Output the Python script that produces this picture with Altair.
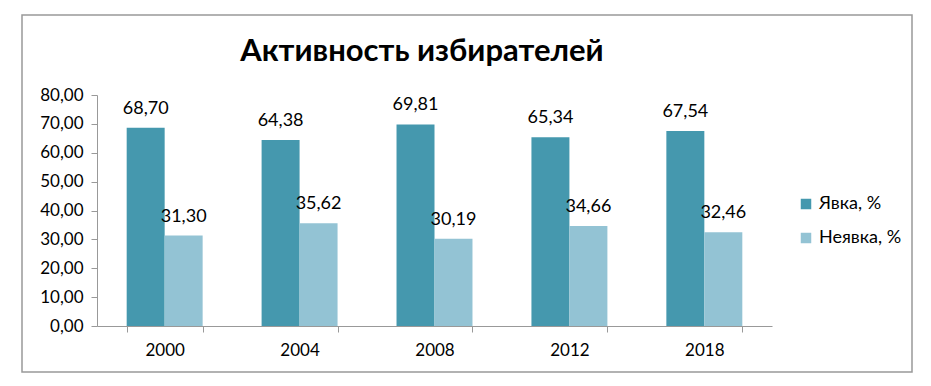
import altair as alt
import pandas as pd

years = ["2000", "2004", "2008", "2012", "2018"]
yavka = [68.70, 64.38, 69.81, 65.34, 67.54]
neyavka = [31.30, 35.62, 30.19, 34.66, 32.46]
series = ["Явка, %", "Неявка, %"]
colors = ["#4598ae", "#93c3d4"]
title_text = "Активность избирателей"
y_ticks = [0, 10, 20, 30, 40, 50, 60, 70, 80]

rows = []
for i, y in enumerate(years):
    rows.append({"year": y, "series": series[0], "value": yavka[i]})
    rows.append({"year": y, "series": series[1], "value": neyavka[i]})
df = pd.DataFrame(rows)

FONT = "Lato"

x_enc = alt.X("year:N", sort=years, title=None,
              scale=alt.Scale(paddingInner=0.437, paddingOuter=0.22),
              axis=alt.Axis(labelAngle=0, tickBand="extent", labelFontSize=17,
                            labelColor="#000", labelFont=FONT, labelPadding=10,
                            domainColor="#999", tickColor="#999", tickSize=6))
xo_enc = alt.XOffset("series:N", sort=series)
y_enc = alt.Y("value:Q", title=None,
              scale=alt.Scale(domain=[0, 80]),
              axis=alt.Axis(values=y_ticks, grid=False, tickCount=9,
                            labelOverlap=False,
                            labelExpr="replace(format(datum.value, '.2f'), '.', ',')",
                            labelFontSize=17, labelColor="#000", labelFont=FONT,
                            labelPadding=8, domainColor="#999", tickColor="#999",
                            tickSize=6))

base = alt.Chart(df)

bars = base.mark_bar().encode(
    x=x_enc, xOffset=xo_enc, y=y_enc,
    color=alt.Color("series:N", sort=series, title=None,
                    scale=alt.Scale(domain=series, range=colors),
                    legend=alt.Legend(orient="none", legendX=700, legendY=100,
                                      symbolType="square", symbolSize=110,
                                      symbolStrokeWidth=0, labelFontSize=18,
                                      labelFont=FONT, labelColor="#000",
                                      rowPadding=16, labelOffset=4)),
)

labels = base.transform_calculate(
    label="replace(format(datum.value, '.2f'), '.', ',')"
).mark_text(baseline="bottom", dy=-10, fontSize=18, font=FONT, color="#000").encode(
    x=x_enc, xOffset=xo_enc, y=y_enc, text="label:N"
)

one = pd.DataFrame({"a": [0]})
border = alt.Chart(one).mark_rect(fill=None, stroke="#999", strokeWidth=1.5).encode(
    x=alt.value(-75), x2=alt.value(815), y=alt.value(-80), y2=alt.value(277)
)
title = alt.Chart(one).mark_text(
    text=title_text, fontSize=31, fontWeight="bold", font=FONT, color="#000",
    baseline="alphabetic", align="center"
).encode(x=alt.value(325), y=alt.value(-34))

chart = alt.layer(border, bars, labels, title).properties(
    width=675, height=231,
    autosize=alt.AutoSizeParams(type="none"),
    padding={"left": 89, "top": 87, "right": 150, "bottom": 52},
).configure_view(stroke=None)

chart.save("out.html", embed_options={"renderer": "svg", "actions": False})
